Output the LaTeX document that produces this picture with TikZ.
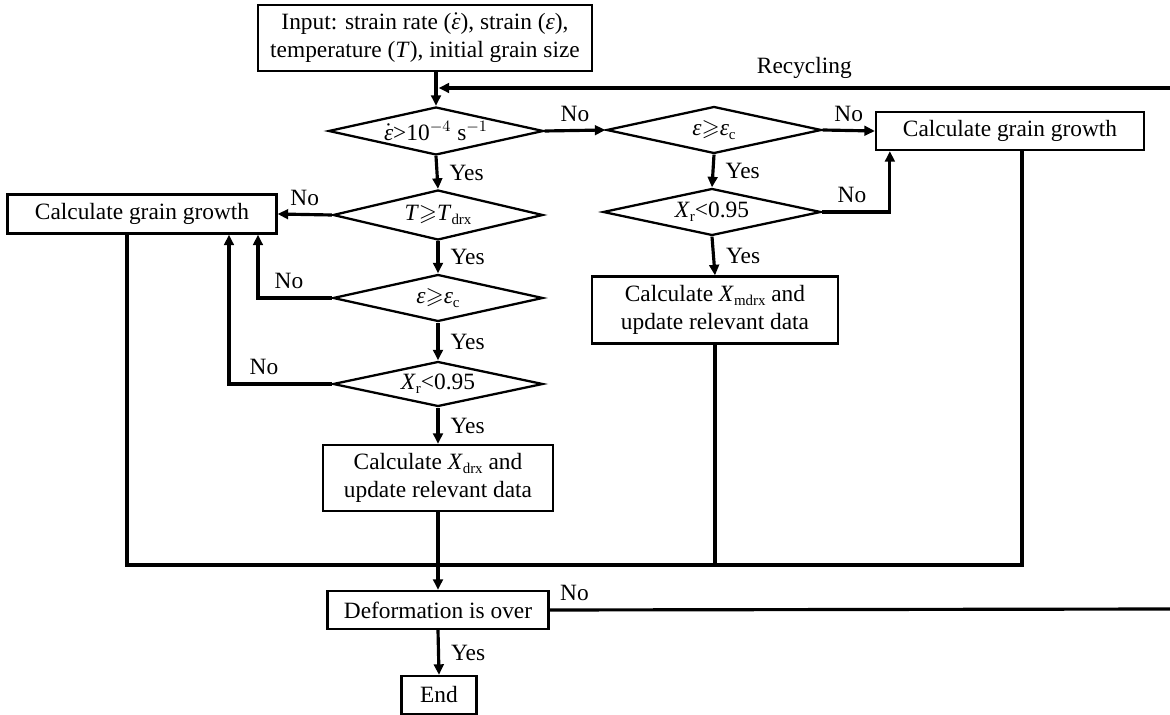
\documentclass[tikz,border=0pt]{standalone}
\usepackage{fontspec}
\setmainfont{Liberation Serif}
\usepackage{amssymb}
\usetikzlibrary{arrows.meta, shapes.geometric}
\newcommand{\epsdot}{$\dot{\mbox{\textit{ε}}}$}
\newcommand{\epsit}{\textit{ε}}
\newcommand{\lowsub}[1]{\raisebox{-0.35ex}{\fontsize{8.5}{9}\selectfont #1}}

\begin{document}
\begin{tikzpicture}[x=0.02cm, y={(0cm,-0.02cm)}, font=\fontsize{13.3}{16}\selectfont,
  box/.style={draw, line width=1.3pt, align=center, inner sep=1pt},
  dec/.style={draw, diamond, line width=1.3pt, shape aspect=4.5, inner sep=0pt},
  line/.style={line width=1.8pt},
  arr/.style={line width=1.8pt, -{Triangle[length=6pt, width=5.5pt]}}]
  \useasboundingbox (0,0) rectangle (1170,715);
  \node[box, minimum width=6.68cm, minimum height=1.32cm] (IN) at (425,38) {Input: strain rate (\epsdot), strain (\epsit),\\temperature (\textit{T}), initial grain size};
  \node[dec, minimum width=4.3cm, minimum height=0.96cm] (D1) at (436,131) {\epsdot>10$^{-4}$ s$^{-1}$};
  \node[dec, minimum width=4.3cm, minimum height=0.94cm] (D2) at (714,130) {\epsit$\geqslant$\epsit\lowsub{c}};
  \node[dec, minimum width=4.36cm, minimum height=0.94cm] (D3) at (712,212) {\textit{X}\lowsub{r}<0.95};
  \node[box, minimum width=5.36cm, minimum height=0.76cm] (GGR) at (1010,131) {Calculate grain growth};
  \node[box, minimum width=4.92cm, minimum height=1.34cm] (MD) at (715,310) {Calculate \textit{X}\lowsub{mdrx} and\\update relevant data};
  \node[box, minimum width=5.38cm, minimum height=0.78cm] (GGL) at (142,214) {Calculate grain growth};
  \node[dec, minimum width=4.2cm, minimum height=1.0cm] (DT) at (438,215) {\textit{T}$\geqslant$\textit{T}\lowsub{drx}};
  \node[dec, minimum width=4.2cm, minimum height=0.94cm] (DE) at (438,298) {\epsit$\geqslant$\epsit\lowsub{c}};
  \node[dec, minimum width=4.2cm, minimum height=0.9cm] (DX) at (438,384) {\textit{X}\lowsub{r}<0.95};
  \node[box, minimum width=4.6cm, minimum height=1.32cm] (DRX) at (438,478) {Calculate \textit{X}\lowsub{drx} and\\update relevant data};
  \node[box, minimum width=4.42cm, minimum height=0.76cm] (DEF) at (438,610) {Deformation is over};
  \node[box, minimum width=1.5cm, minimum height=0.76cm] (END) at (439,695) {End};
  \coordinate (RC) at (1170,88);
  \coordinate (RE) at (1170,609);
  \coordinate (BUS) at (438,565);

  % main column
  \draw[arr] (IN.south -| D1.north) -- (D1.north);
  \draw[arr] (RC) -- node[above=1pt] {Recycling} ([xshift=1.5pt]RC -| D1.north);
  \draw[arr] (D1.south) -- node[right=3pt] {Yes} (DT.north);
  \draw[arr] (DT.south) -- node[right=3pt] {Yes} (DE.north);
  \draw[arr] (DE.south) -- node[right=3pt] {Yes} (DX.north);
  \draw[arr] (DX.south) -- node[right=3pt] {Yes} (DRX.north);
  \draw[arr] (DRX.south) -- (DEF.north);
  \draw[arr] (DEF.south) -- node[right=3pt] {Yes} (END.north);
  \draw[line] (DEF.east) -- node[above=1pt, pos=0.04] {No} (RE);

  % left branch
  \draw[arr] (DT.west) -- node[above=1pt] {No} (GGL.east);
  \draw[arr] (DE.west) -| node[above=1pt, pos=0.29] {No} ([xshift=2.32cm]GGL.south);
  \draw[arr] (DX.west) -| node[above=1pt, pos=0.33] {No} ([xshift=1.74cm]GGL.south);

  % right branch
  \draw[arr] (D1.east) -- node[above=1pt] {No} (D2.west);
  \draw[arr] (D2.east) -- node[above=1pt] {No} (GGR.west);
  \draw[arr] (D2.south) -- node[right=3pt] {Yes} (D3.north);
  \draw[arr] (D3.east) -| node[above=1pt, pos=0.22] {No} ([xshift=0.3cm]GGR.south west);
  \draw[arr] (D3.south) -- node[right=3pt] {Yes} (MD.north);

  % collecting line
  \draw[line] ([xshift=-0.3cm]GGL.south) |- ([xshift=0.24cm]GGR.south |- BUS) -- ([xshift=0.24cm]GGR.south);
  \draw[line] (MD.south) -- (MD.south |- BUS);
\end{tikzpicture}
\end{document}
